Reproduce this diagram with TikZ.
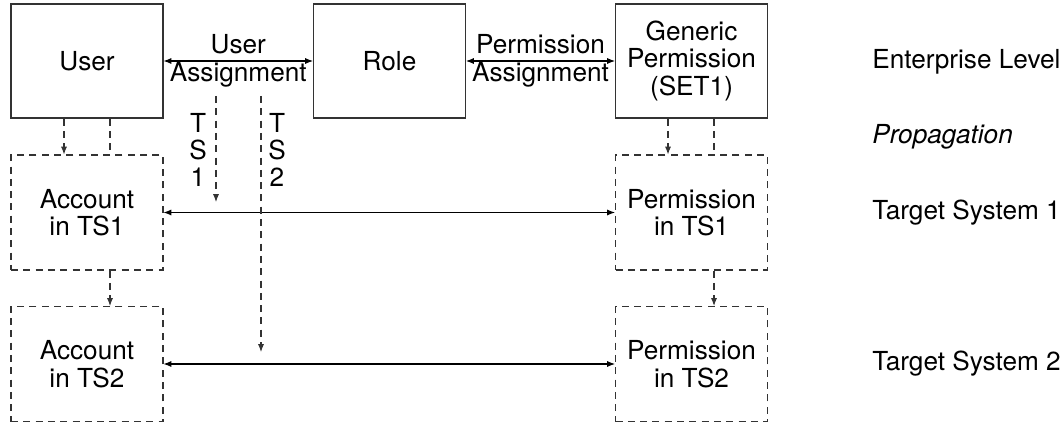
\documentclass[tikz,border=0pt]{standalone}
\usepackage{fontspec}
\setmainfont{TeX Gyre Heros}
\usetikzlibrary{calc,arrows.meta}

\begin{document}
\begin{tikzpicture}[font=\fontsize{14.9}{15.6}\selectfont, line width=.6pt,
    >={Latex[length=4.5pt,width=3.5pt]},
    box/.style={draw=black!80,rectangle,minimum width=3.04cm,minimum height=2.28cm,inner sep=0pt,align=center},
    tsbox/.style={box,dashed,dash pattern=on 4pt off 3pt,minimum height=2.3cm},
    prop/.style={draw=black!80,dash pattern=on 4pt off 3pt}]
      \useasboundingbox (0,0) rectangle (21.2,8.46);
      % enterprise level
      \draw (1.74,7.24) node [box] (user) {User};
      \draw (7.79,7.24) node [box] (role) {Role};
      \draw (13.83,7.24) node [box] (gperm) {Generic\\Permission\\(SET1)};
      % target systems
      \draw (1.74,4.21) node [tsbox] (acc1) {Account\\in TS1};
      \draw (1.74,1.18) node [tsbox] (acc2) {Account\\in TS2};
      \draw (13.83,4.21) node [tsbox] (perm1) {Permission\\in TS1};
      \draw (13.83,1.18) node [tsbox] (perm2) {Permission\\in TS2};
      \draw
        (4.32,6.54) coordinate (tsa1) (4.32,4.42) coordinate (tsb1)
        (5.22,6.54) coordinate (tsa2) (5.22,1.42) coordinate (tsb2);
      \draw[<->]
        (user) -- (role) node [midway,align=center] (uasg) {User\\Assignment};
      \draw[<->]
        (role) -- (gperm) node [midway,align=center] (pasg) {Permission\\Assignment};
      \draw[<->] (acc1) -- (perm1);
      \draw[<->] (acc2) -- (perm2);
      \draw[prop,->] (tsa1) -- (tsb1);
      \draw[prop,->] (tsa2) -- (tsb2);
      \node [align=center] (ts1) at (3.96,5.46) {T\\S\\1};
      \node [align=center] (ts2) at (5.54,5.46) {T\\S\\2};
      % propagation
      \draw[prop,->] ($(user.south)+(-0.46,0)$) -- ($(acc1.north)+(-0.46,0)$);
      \draw[prop] ($(user.south)+(0.46,0)$) -- ($(acc1.north)+(0.46,0)$);
      \draw[prop,->] ($(acc1.south)+(0.46,0)$) -- ($(acc2.north)+(0.46,0)$);
      \draw[prop,->] ($(gperm.south)+(-0.47,0)$) -- ($(perm1.north)+(-0.47,0)$);
      \draw[prop] ($(gperm.south)+(0.45,0)$) -- ($(perm1.north)+(0.45,0)$);
      \draw[prop,->] ($(perm1.south)+(0.45,0)$) -- ($(perm2.north)+(0.45,0)$);
      % levels
      \node [anchor=west] (lent) at (17.32,7.22) {Enterprise Level};
      \node [anchor=west] (lprop) at (17.32,5.72) {\itshape Propagation};
      \node [anchor=west] (lts1) at (17.32,4.2) {Target System 1};
      \node [anchor=west] (lts2) at (17.32,1.18) {Target System 2};
    \end{tikzpicture}
\end{document}
